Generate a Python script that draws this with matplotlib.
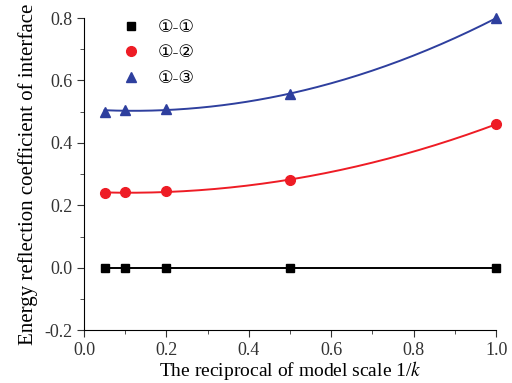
import numpy as np
import matplotlib
matplotlib.use("Agg")
import matplotlib.pyplot as plt
from matplotlib.ticker import MultipleLocator

x = [0.05, 0.1, 0.2, 0.5, 1.0]
s11 = [0.0, 0.0, 0.0, 0.0, 0.0]
s12 = [0.238, 0.241, 0.247, 0.280, 0.460]
s13 = [0.500, 0.505, 0.510, 0.555, 0.800]
labels = ["①-①", "①-②", "①-③"]

plt.rcParams['font.family'] = ['Liberation Serif', 'DejaVu Sans']
plt.rcParams['mathtext.fontset'] = 'stix'

fig = plt.figure(figsize=(5.12, 3.83), dpi=100)
ax = fig.add_axes([0.164, 0.138, 0.805, 0.815])

xs = np.linspace(min(x), max(x), 200)
series = [(s11, 'black', 's', 6), (s12, '#ee1c25', 'o', 7), (s13, '#2e3f9e', '^', 7.5)]
for (ys, c, m, ms), lab in zip(series, labels):
    p = np.polyfit(x, ys, 2)
    ax.plot(xs, np.polyval(p, xs), color=c, lw=1.4, zorder=2)
    ax.plot(x, ys, linestyle='none', marker=m, color=c, markersize=ms, label=lab, zorder=3, clip_on=False)

ax.set_xlim(0, 1.0)
ax.set_ylim(-0.2, 0.8)
ax.xaxis.set_major_locator(MultipleLocator(0.2))
ax.xaxis.set_minor_locator(MultipleLocator(0.1))
ax.yaxis.set_major_locator(MultipleLocator(0.2))
ax.yaxis.set_minor_locator(MultipleLocator(0.1))
ax.spines['top'].set_visible(False)
ax.spines['right'].set_visible(False)
ax.tick_params(which='both', direction='out', labelsize=13, colors='#333333')
ax.tick_params(which='major', length=5)
ax.tick_params(which='minor', length=3)
ax.xaxis.set_major_formatter(plt.FuncFormatter(lambda v, p: f"{v:.1f}"))
ax.yaxis.set_major_formatter(plt.FuncFormatter(lambda v, p: f"{v:.1f}"))
ax.set_xlabel("The reciprocal of model scale 1/$k$", fontsize=14, labelpad=0)
ax.set_ylabel("Energy reflection coefficient of interface", fontsize=15, labelpad=4)
ax.legend(loc='upper left', frameon=False, fontsize=12.5, bbox_to_anchor=(0.035, 1.045),
          handletextpad=0.5, labelspacing=0.55)

fig.savefig("out.png", dpi=100)
